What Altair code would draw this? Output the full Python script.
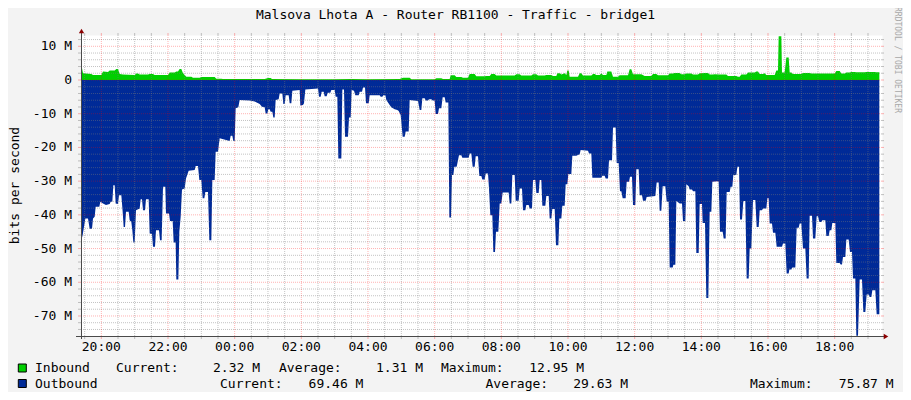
import altair as alt
import pandas as pd

FONT = "DejaVu Sans Mono"

# hours since midnight of the first day (24 = 00:00 of the next day), Mbit/s
outbound = [
    (19.39, -48.0), (19.44, -46.0), (19.48, -43.6), (19.52, -41.1), (19.60, -41.1), (19.65, -44.1),
    (19.72, -44.1), (19.75, -41.1), (19.80, -40.6), (19.83, -37.6), (19.94, -37.6), (19.97, -36.1),
    (20.05, -36.6), (20.14, -37.1), (20.25, -36.8), (20.28, -36.1), (20.33, -36.1), (20.36, -31.2),
    (20.40, -31.2), (20.43, -36.6), (20.50, -36.8), (20.53, -34.2), (20.60, -34.2), (20.64, -39.1),
    (20.67, -43.6), (20.71, -43.6), (20.74, -39.1), (20.82, -39.1), (20.85, -41.6), (20.90, -42.1),
    (20.93, -44.6), (20.96, -48.2), (21.00, -48.2), (21.04, -38.6), (21.15, -38.1), (21.18, -35.4),
    (21.22, -35.4), (21.25, -38.6), (21.31, -38.6), (21.34, -35.4), (21.42, -35.4), (21.45, -45.5),
    (21.52, -45.7), (21.55, -49.5), (21.61, -49.5), (21.64, -44.6), (21.73, -44.6), (21.76, -47.5),
    (21.81, -47.5), (21.85, -31.7), (21.92, -31.7), (21.94, -39.6), (22.03, -39.6), (22.06, -41.8),
    (22.14, -41.8), (22.17, -48.2), (22.23, -48.2), (22.25, -59.2), (22.31, -59.2), (22.34, -45.0),
    (22.38, -40.6), (22.42, -32.5), (22.50, -32.2), (22.54, -29.2), (22.62, -26.9), (22.80, -26.7),
    (22.83, -25.5), (22.90, -25.5), (22.94, -29.7), (23.00, -29.7), (23.04, -35.1), (23.09, -35.1),
    (23.12, -33.2), (23.20, -33.2), (23.24, -47.5), (23.30, -47.5), (23.33, -29.7), (23.40, -29.7),
    (23.43, -21.3), (23.50, -21.3), (23.55, -17.3), (23.85, -18.1), (23.88, -16.5), (23.93, -16.5),
    (23.96, -18.1), (24.00, -18.1), (24.03, -8.4), (24.11, -8.1), (24.15, -5.9), (24.45, -6.1),
    (24.60, -6.4), (24.75, -7.1), (24.82, -7.9), (24.90, -8.1), (24.93, -9.9), (24.98, -9.9),
    (25.01, -8.7), (25.05, -8.7), (25.08, -9.4), (25.13, -9.4), (25.16, -11.1), (25.20, -11.1),
    (25.23, -5.9), (25.32, -5.7), (25.35, -4.0), (25.43, -4.0), (25.46, -7.1), (25.50, -7.1),
    (25.53, -4.5), (25.62, -4.5), (25.65, -6.9), (25.70, -6.9), (25.73, -3.2), (25.95, -3.0),
    (25.97, -7.6), (26.05, -7.4), (26.08, -6.9), (26.12, -2.8), (26.50, -2.5), (26.53, -5.0),
    (26.58, -5.0), (26.61, -3.5), (26.67, -3.5), (26.70, -4.8), (26.76, -4.8), (26.79, -3.8),
    (26.87, -3.8), (26.90, -3.0), (27.00, -3.0), (27.03, -5.0), (27.08, -5.0), (27.11, -23.3),
    (27.20, -23.3), (27.23, -2.8), (27.28, -2.8), (27.31, -16.8), (27.40, -16.8), (27.43, -11.1),
    (27.48, -11.1), (27.51, -3.0), (27.58, -3.2), (27.62, -4.5), (27.72, -4.5), (27.75, -3.5),
    (27.82, -3.5), (27.85, -2.2), (27.91, -2.2), (27.94, -6.9), (28.02, -6.9), (28.05, -4.5),
    (28.35, -4.5), (28.38, -5.0), (28.43, -5.0), (28.46, -4.5), (28.52, -4.5), (28.55, -5.9),
    (28.65, -7.4), (28.70, -8.1), (28.80, -8.7), (28.88, -8.9), (28.92, -9.2), (28.98, -10.4),
    (29.04, -16.8), (29.10, -16.8), (29.13, -15.3), (29.22, -15.3), (29.25, -5.9), (29.50, -6.2),
    (29.55, -8.9), (29.60, -8.9), (29.63, -5.4), (29.70, -5.4), (29.73, -6.1), (29.80, -6.1),
    (29.83, -5.7), (29.90, -5.7), (29.94, -6.1), (30.00, -6.1), (30.03, -10.1), (30.10, -10.1),
    (30.13, -8.4), (30.20, -8.4), (30.24, -5.1), (30.30, -5.1), (30.33, -6.7), (30.41, -6.7),
    (30.44, -40.8), (30.49, -40.8), (30.52, -28.2), (30.56, -28.2), (30.59, -25.7), (30.66, -25.7),
    (30.73, -22.3), (30.80, -22.3), (30.83, -23.1), (31.02, -23.1), (31.05, -21.8), (31.10, -21.8),
    (31.14, -25.7), (31.20, -25.7), (31.23, -22.6), (31.30, -22.6), (31.34, -28.5), (31.40, -28.5),
    (31.43, -29.5), (31.50, -29.5), (31.53, -27.7), (31.60, -27.7), (31.63, -32.2), (31.67, -40.1),
    (31.73, -40.1), (31.76, -51.0), (31.81, -51.0), (31.84, -45.0), (31.91, -45.0), (31.95, -36.6),
    (32.00, -36.6), (32.04, -33.4), (32.22, -33.4), (32.25, -36.6), (32.30, -36.6), (32.33, -28.2),
    (32.40, -28.2), (32.43, -35.8), (32.52, -35.8), (32.55, -32.2), (32.62, -32.2), (32.65, -38.6),
    (32.72, -38.6), (32.75, -37.1), (32.82, -37.1), (32.85, -38.1), (32.92, -38.1), (32.95, -29.7),
    (33.02, -29.7), (33.05, -33.5), (33.12, -33.5), (33.15, -29.7), (33.20, -29.7), (33.23, -37.3),
    (33.32, -37.3), (33.35, -34.4), (33.42, -34.4), (33.45, -41.1), (33.50, -41.1), (33.53, -38.3),
    (33.60, -38.3), (33.64, -49.0), (33.71, -49.0), (33.74, -41.1), (33.80, -41.1), (33.83, -37.3),
    (33.90, -37.3), (33.93, -30.9), (33.98, -30.9), (34.01, -27.9), (34.10, -27.9), (34.13, -22.5),
    (34.25, -22.5), (34.28, -22.3), (34.35, -22.0), (34.38, -20.8), (34.60, -21.0), (34.63, -21.8),
    (34.70, -21.8), (34.73, -29.0), (35.00, -29.0), (35.03, -28.4), (35.10, -28.4), (35.13, -29.2),
    (35.20, -29.2), (35.23, -23.8), (35.32, -23.8), (35.35, -14.1), (35.43, -14.1), (35.46, -24.6),
    (35.52, -24.6), (35.56, -33.0), (35.60, -33.0), (35.64, -35.1), (35.73, -35.1), (35.76, -30.2),
    (35.83, -30.2), (35.86, -28.7), (35.92, -28.7), (35.95, -37.1), (36.02, -37.1), (36.05, -26.5),
    (36.12, -26.5), (36.15, -34.2), (36.22, -34.2), (36.25, -35.8), (36.33, -35.8), (36.36, -34.7),
    (36.62, -34.4), (36.66, -30.4), (36.72, -30.4), (36.75, -38.8), (36.80, -38.8), (36.84, -31.5),
    (36.92, -31.5), (36.96, -36.1), (37.02, -36.1), (37.05, -55.6), (37.14, -55.6), (37.16, -54.8),
    (37.22, -54.8), (37.25, -35.9), (37.32, -36.4), (37.35, -36.6), (37.42, -36.6), (37.45, -41.8),
    (37.52, -41.8), (37.55, -30.9), (37.62, -31.5), (37.65, -32.5), (37.72, -32.5), (37.75, -33.0),
    (37.82, -33.0), (37.85, -51.3), (37.92, -51.3), (37.95, -36.8), (38.02, -36.8), (38.04, -42.4),
    (38.11, -42.4), (38.15, -64.7), (38.21, -64.7), (38.25, -39.1), (38.30, -39.1), (38.33, -30.2),
    (38.50, -30.0), (38.52, -30.2), (38.56, -45.0), (38.64, -45.0), (38.67, -47.0), (38.73, -47.0),
    (38.76, -33.2), (38.85, -33.2), (38.88, -31.7), (38.93, -31.7), (38.96, -28.2), (39.05, -28.2),
    (39.08, -25.7), (39.13, -25.7), (39.16, -41.4), (39.22, -41.4), (39.26, -35.9), (39.32, -35.9),
    (39.36, -58.9), (39.42, -58.9), (39.45, -50.0), (39.50, -50.0), (39.55, -35.6), (39.62, -35.6),
    (39.66, -43.6), (39.72, -43.6), (39.75, -38.6), (39.82, -38.6), (39.85, -38.1), (39.95, -38.1),
    (39.98, -35.1), (40.02, -35.1), (40.05, -42.6), (40.12, -42.6), (40.15, -45.3), (40.22, -45.3),
    (40.26, -49.5), (40.42, -49.5), (40.45, -48.5), (40.52, -48.5), (40.56, -57.4), (40.62, -57.4),
    (40.64, -56.2), (40.70, -56.2), (40.73, -55.6), (40.82, -55.6), (40.86, -43.8), (40.92, -43.8),
    (40.95, -42.6), (41.00, -42.6), (41.05, -50.0), (41.12, -50.0), (41.16, -58.9), (41.22, -58.9),
    (41.25, -40.3), (41.32, -40.3), (41.35, -47.0), (41.42, -47.0), (41.46, -40.4), (41.50, -40.4),
    (41.54, -42.1), (41.60, -42.1), (41.63, -41.6), (41.72, -41.6), (41.75, -46.3), (41.82, -46.3),
    (41.85, -44.6), (41.90, -44.6), (41.93, -42.4), (42.02, -42.4), (42.05, -54.3), (42.15, -54.3),
    (42.18, -54.7), (42.22, -54.7), (42.25, -52.5), (42.32, -52.5), (42.35, -47.3), (42.42, -47.3),
    (42.46, -51.0), (42.52, -51.0), (42.55, -58.9), (42.62, -58.9), (42.65, -75.87), (42.70, -75.87),
    (42.75, -59.2), (42.82, -59.2), (42.86, -68.8), (42.92, -68.8), (42.96, -63.6), (43.02, -63.6),
    (43.05, -64.4), (43.10, -64.4), (43.13, -62.4), (43.22, -62.4), (43.26, -69.46), (43.34, -69.46),
]

inbound = [
    (19.39, 6.4), (19.42, 3.5), (19.45, 2.0), (19.70, 1.8), (19.75, 1.5), (20.00, 1.5), (20.05, 2.5),
    (20.20, 2.4), (20.25, 2.8), (20.40, 2.8), (20.45, 3.3), (20.50, 3.3), (20.55, 1.8), (20.65, 1.6),
    (21.00, 1.5), (21.05, 1.9), (21.10, 1.9), (21.15, 1.6), (21.40, 1.6), (21.45, 1.8), (21.55, 1.8),
    (21.60, 1.5), (22.00, 1.5), (22.05, 2.2), (22.20, 2.2), (22.25, 2.5), (22.30, 2.5), (22.35, 3.3),
    (22.40, 3.3), (22.45, 2.0), (22.55, 1.0), (22.70, 1.0), (22.75, 0.7), (22.95, 0.7), (23.00, 0.9),
    (23.40, 0.9), (23.45, 0.4), (23.60, 0.4), (23.65, 0.3), (24.10, 0.3), (24.90, 0.3), (25.00, 0.6),
    (25.08, 0.6), (25.12, 0.3), (26.00, 0.2), (27.00, 0.2), (27.50, 0.3), (28.00, 0.2), (28.95, 0.3),
    (29.05, 0.7), (29.25, 0.7), (29.30, 0.2), (30.00, 0.2), (30.05, 0.5), (30.20, 0.5), (30.25, 0.3),
    (30.45, 0.3), (30.48, 1.4), (30.60, 1.4), (30.65, 0.9), (30.80, 0.9), (30.85, 0.7), (31.00, 0.7),
    (31.05, 1.8), (31.20, 1.8), (31.25, 1.1), (31.50, 1.1), (31.55, 1.2), (31.65, 1.2), (31.70, 1.8),
    (31.80, 1.8), (31.85, 1.3), (32.40, 1.3), (32.45, 1.7), (32.55, 1.7), (32.60, 1.3), (32.90, 1.3),
    (32.95, 1.7), (33.05, 1.7), (33.10, 1.3), (33.30, 1.3), (33.35, 1.5), (33.50, 1.5), (33.55, 1.2),
    (33.65, 1.2), (33.68, 2.0), (33.76, 2.0), (33.80, 1.6), (33.90, 2.0), (33.95, 1.5), (33.98, 2.8),
    (34.02, 2.8), (34.05, 1.0), (34.30, 1.0), (34.35, 2.0), (34.40, 2.0), (34.45, 1.3), (34.70, 1.3),
    (34.75, 1.8), (34.80, 1.8), (34.85, 1.5), (34.95, 1.5), (35.00, 1.9), (35.05, 1.5), (35.15, 1.5),
    (35.18, 2.5), (35.30, 2.5), (35.35, 1.0), (35.50, 1.0), (35.55, 1.4), (35.80, 1.4), (35.85, 3.2),
    (35.90, 3.2), (35.95, 1.7), (36.20, 1.7), (36.30, 1.2), (36.50, 1.2), (36.55, 1.8), (36.65, 1.8),
    (36.70, 1.4), (37.00, 1.4), (37.05, 1.9), (37.15, 1.9), (37.20, 2.1), (37.35, 2.1), (37.40, 1.7),
    (37.50, 1.7), (37.55, 1.9), (37.70, 1.9), (37.75, 1.6), (37.90, 1.6), (37.95, 2.0), (38.00, 2.0),
    (38.10, 2.1), (38.20, 2.1), (38.25, 1.6), (38.35, 1.6), (38.40, 1.7), (38.55, 1.6), (38.75, 1.6),
    (38.80, 1.2), (39.05, 1.2), (39.10, 1.0), (39.15, 1.0), (39.20, 1.6), (39.35, 1.6), (39.40, 2.2),
    (39.60, 2.2), (39.65, 2.5), (39.70, 2.5), (39.75, 1.8), (39.85, 1.8), (39.90, 2.0), (39.95, 1.5),
    (40.20, 1.5), (40.25, 2.8), (40.30, 2.8), (40.32, 12.95), (40.40, 12.95), (40.42, 2.2), (40.50, 2.2),
    (40.55, 6.7), (40.62, 6.7), (40.65, 2.2), (40.70, 2.2), (40.75, 1.8), (41.00, 1.8), (41.05, 2.1),
    (41.25, 2.1), (41.30, 1.9), (42.00, 1.9), (42.05, 2.7), (42.15, 2.7), (42.20, 1.9), (42.30, 1.9),
    (42.35, 2.2), (42.45, 2.2), (42.50, 2.4), (42.60, 2.4), (42.65, 2.3), (42.90, 2.3), (42.95, 2.4),
    (43.20, 2.4), (43.25, 2.32), (43.34, 2.32),
]

x_label_hours = [20, 22, 24, 26, 28, 30, 32, 34, 36, 38, 40, 42]
y_label_values = [-70, -60, -50, -40, -30, -20, -10, 0, 10]

legend_names = ["Inbound", "Outbound"]
legend_colors = ["#00CF00", "#002A97"]
legend_current = [2.32, 69.46]
legend_average = [1.31, 29.63]
legend_maximum = [12.95, 75.87]

title_text = "Malsova Lhota A - Router RB1100 - Traffic - bridge1"
y_title_text = "bits per second"
credit_text = "RRDTOOL / TOBI OETIKER"

# ---------------------------------------------------------------- layout
W, H = 801, 301
x_minor = [h / 2 for h in range(39, 87) if h % 4 != 0]
y_minor = [v for v in range(-74, 13, 2) if v % 10 != 0]

xs = alt.Scale(domain=[19.39, 43.42], nice=False, zero=False)
ys = alt.Scale(domain=[-75.94, 13.35], nice=False, zero=False)

out_df = pd.DataFrame(outbound, columns=["hour", "mbits"])
in_df = pd.DataFrame(inbound, columns=["hour", "mbits"])
one = pd.DataFrame({"a": [0]})
xlab_df = pd.DataFrame({"hour": x_label_hours,
                        "label": [f"{h % 24:02d}:00" for h in x_label_hours]})
ylab_df = pd.DataFrame({"m": y_label_values,
                        "label": ["0" if v == 0 else f"{v} M" for v in y_label_values]})

X = lambda f="hour": alt.X(f"{f}:Q", scale=xs, axis=None)
Y = lambda f="mbits": alt.Y(f"{f}:Q", scale=ys, axis=None)

area_out = alt.Chart(out_df).mark_area(color="#002A97", interpolate="linear", clip=True, opacity=1).encode(
    x=X(), y=Y())
area_in = alt.Chart(in_df).mark_area(color="#00CF00", interpolate="linear", clip=True, opacity=1).encode(
    x=X(), y=Y())

GRID = dict(color="#7A7A7A", opacity=0.45)
MGRID = dict(color="#FF0000", opacity=0.3)


def vgrid(hours, style):
    df = pd.DataFrame({"hour": hours})
    line = alt.Chart(df).mark_rule(strokeDash=[1, 1], strokeWidth=1, **style).encode(
        x=X(), y=alt.value(0), y2=alt.value(H))
    top = alt.Chart(df).mark_rule(strokeWidth=1, **style).encode(
        x=X(), y=alt.value(-2), y2=alt.value(0))
    bot = alt.Chart(df).mark_rule(strokeWidth=1, **style).encode(
        x=X(), y=alt.value(H), y2=alt.value(H + 3))
    return [line, top, bot]


def hgrid(vals, style):
    df = pd.DataFrame({"m": vals})
    line = alt.Chart(df).mark_rule(strokeDash=[1, 1], strokeWidth=1, **style).encode(
        y=Y("m"), x=alt.value(0), x2=alt.value(W))
    left = alt.Chart(df).mark_rule(strokeWidth=1, **style).encode(
        y=Y("m"), x=alt.value(-3), x2=alt.value(0))
    right = alt.Chart(df).mark_rule(strokeWidth=1, **style).encode(
        y=Y("m"), x=alt.value(W), x2=alt.value(W + 2))
    return [line, left, right]


AX = "#4A4A4A"
ax_y = alt.Chart(one).mark_rule(color=AX, strokeWidth=1).encode(
    x=alt.value(0.5), y=alt.value(-3), y2=alt.value(H + 3))
ax_x = alt.Chart(one).mark_rule(color=AX, strokeWidth=1).encode(
    x=alt.value(-5), x2=alt.value(W + 2), y=alt.value(H + 0.5))
arrow_up = alt.Chart(one).mark_point(shape="triangle-up", filled=True, color="#8B0000", size=28, opacity=1).encode(
    x=alt.value(0.5), y=alt.value(-4))
arrow_right = alt.Chart(one).mark_point(shape="triangle-right", filled=True, color="#8B0000", size=28, opacity=1).encode(
    x=alt.value(W + 4), y=alt.value(H + 0.5))

x_labels = alt.Chart(xlab_df).mark_text(font=FONT, fontSize=13, color="black", baseline="middle",
                                        align="center").encode(x=X(), y=alt.value(H + 11), text="label:N")
y_labels = alt.Chart(ylab_df).mark_text(font=FONT, fontSize=13, color="black", baseline="middle",
                                        align="right").encode(y=Y("m"), x=alt.value(-9), text="label:N")


def txt(s, x, y, align="left", size=13, angle=0, color="black"):
    return alt.Chart(one).mark_text(text=s, align=align, baseline="middle", font=FONT, fontSize=size,
                                    angle=angle, color=color).encode(x=alt.value(x), y=alt.value(y))


texts = [
    txt(title_text, 374.5, -20.5, align="center"),
    txt(y_title_text, -66, H / 2, align="center", angle=270),
    txt(credit_text, 815.5, 25, align="center", size=8, angle=90, color="#A8A8A8"),
]

# legend rows: page x positions converted to plot-relative positions
rows_y = [333, 348.5]
label_x = [[35, 116, 279, 441], [35, 220, 485.5, 750]]
value_x = [[260, 423, 584], [363.4, 628, 893.6]]
legend_marks = []
for i in range(2):
    ox = -81
    legend_marks.append(
        alt.Chart(one).mark_square(size=64, color=legend_colors[i], filled=True, stroke="black",
                                   strokeWidth=1, opacity=1).encode(x=alt.value(22.3 + ox), y=alt.value(rows_y[i])))
    lx = label_x[i]
    vx = value_x[i]
    legend_marks += [
        txt(legend_names[i], lx[0] + ox, rows_y[i]),
        txt("Current:", lx[1] + ox, rows_y[i]),
        txt(f"{legend_current[i]:.2f} M", vx[0] + ox, rows_y[i], align="right"),
        txt("Average:", lx[2] + ox, rows_y[i]),
        txt(f"{legend_average[i]:.2f} M", vx[1] + ox, rows_y[i], align="right"),
        txt("Maximum:", lx[3] + ox, rows_y[i]),
        txt(f"{legend_maximum[i]:.2f} M", vx[2] + ox, rows_y[i], align="right"),
    ]

layers = [area_out, area_in]
layers += vgrid(x_minor, GRID) + hgrid(y_minor, GRID)
layers += vgrid(x_label_hours, MGRID) + hgrid(y_label_values, MGRID)
layers += [ax_x, ax_y, arrow_up, arrow_right, x_labels, y_labels] + texts + legend_marks

chart = alt.layer(*layers).properties(
    width=W, height=H,
    padding={"left": 73, "top": 27, "right": 21, "bottom": 56},
    autosize=alt.AutoSizeParams(type="none"),
    background="#F3F3F3",
).configure_view(fill="white", stroke="transparent")

chart.save("out.html", embed_options={"renderer": "svg", "actions": False})
